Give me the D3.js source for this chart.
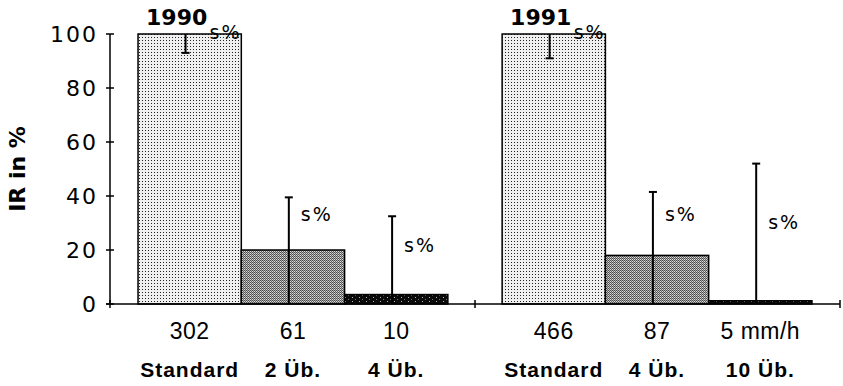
<!DOCTYPE html>
<html>
<head>
<meta charset="utf-8">
<script src="https://cdn.jsdelivr.net/npm/d3@7"></script>
<style>
  html, body { margin: 0; padding: 0; background: #fff; }
  svg { display: block; }
  text { fill: #000; }
</style>
</head>
<body>
<svg id="chart" width="843" height="386"></svg>
<script>
// IR (in % of the standard) per treatment, two seasons
const years = ["1990", "1991"];
const groupOf = ["1990", "1990", "1990", "1991", "1991", "1991"];
const categories = ["Standard", "2 Üb.", "4 Üb.", "Standard", "4 Üb.", "10 Üb."];
const counts = ["302", "61", "10", "466", "87", "5 mm/h"];
const irValues = [100, 20, 3.5, 100, 18, 1.2];
const sdEnds = [93, 39.5, 32.5, 91, 41.5, 52];
const yTicks = [0, 20, 40, 60, 80, 100];
const sdLabel = "s%";

const bars = categories.map((c, i) => ({
  i, group: groupOf[i], cat: c, count: counts[i],
  value: irValues[i], sd: sdEnds[i],
  slot: i % 3
}));

const svg = d3.select("#chart");
const plotLeft = 110, plotRight = 840, plotTop = 34, plotBottom = 304;

const y = d3.scaleLinear().domain([0, 100]).range([plotBottom, plotTop]);
const outer = d3.scaleBand().domain(years).range([plotLeft, plotRight])
  .paddingInner(0.149).paddingOuter(0.077);
const inner = d3.scaleBand().domain([0, 1, 2]).range([0, outer.bandwidth()]).padding(0);
const xOf = d => outer(d.group) + inner(d.slot);
const cxOf = d => xOf(d) + inner.bandwidth() / 2;

// fill textures
const defs = svg.append("defs");
const light = defs.append("pattern").attr("id", "p-light")
  .attr("patternUnits", "userSpaceOnUse").attr("width", 3).attr("height", 3);
light.append("rect").attr("width", 3).attr("height", 3).attr("fill", "#f0f0f0");
light.append("rect").attr("x", 1).attr("y", 1).attr("width", 1).attr("height", 1).attr("fill", "#222");

const mid = defs.append("pattern").attr("id", "p-mid")
  .attr("patternUnits", "userSpaceOnUse").attr("width", 2).attr("height", 2);
mid.append("rect").attr("width", 2).attr("height", 2).attr("fill", "#dcdcdc");
mid.append("rect").attr("x", 0).attr("y", 0).attr("width", 1).attr("height", 1).attr("fill", "#4a4a4a");
mid.append("rect").attr("x", 1).attr("y", 1).attr("width", 1).attr("height", 1).attr("fill", "#606060");
mid.append("rect").attr("x", 1).attr("y", 0).attr("width", 1).attr("height", 1).attr("fill", "#aaa");

const dark = defs.append("pattern").attr("id", "p-dark")
  .attr("patternUnits", "userSpaceOnUse").attr("width", 7).attr("height", 4);
dark.append("rect").attr("width", 7).attr("height", 4).attr("fill", "#0a0a0a");
dark.append("rect").attr("x", 2).attr("y", 1).attr("width", 1).attr("height", 1).attr("fill", "#bbb");
dark.append("rect").attr("x", 5).attr("y", 3).attr("width", 1).attr("height", 1).attr("fill", "#777");

const fills = ["url(#p-light)", "url(#p-mid)", "url(#p-dark)"];

// bars
svg.append("g").selectAll("rect").data(bars).join("rect")
  .attr("x", d => xOf(d))
  .attr("y", d => y(d.value))
  .attr("width", inner.bandwidth())
  .attr("height", d => y(0) - y(d.value))
  .attr("fill", d => fills[d.slot])
  .attr("stroke", "#000")
  .attr("stroke-width", 1.5);

// error bars: upward ones start at the baseline, downward ones at the bar top
const errX = d => xOf(d) + inner.bandwidth() * 0.46;
const isDown = d => d.sd < d.value;
const eg = svg.append("g").attr("stroke", "#000").attr("stroke-width", 2);
eg.selectAll("line.err").data(bars).join("line").attr("class", "err")
  .attr("x1", errX).attr("x2", errX)
  .attr("y1", d => isDown(d) ? y(d.value) : y(0))
  .attr("y2", d => y(d.sd));
eg.selectAll("line.cap").data(bars).join("line").attr("class", "cap")
  .attr("x1", d => errX(d) - 4).attr("x2", d => errX(d) + 4)
  .attr("y1", d => y(d.sd)).attr("y2", d => y(d.sd));

// s% annotations
svg.append("g").selectAll("text").data(bars).join("text")
  .attr("x", d => errX(d) + (isDown(d) ? 24 : 12))
  .attr("y", d => isDown(d) ? y(d.value) + 5 : y((d.value + d.sd) / 2) - 3)
  .attr("font-family", "DejaVu Sans, sans-serif")
  .attr("font-size", 19)
  .attr("letter-spacing", 2)
  .text(sdLabel);

// y axis
const ya = svg.append("g");
ya.append("line").attr("x1", plotLeft).attr("x2", plotLeft).attr("y1", y(0)).attr("y2", y(100))
  .attr("stroke", "#000").attr("stroke-width", 1.5);
ya.selectAll("line.t").data(yTicks).join("line").attr("class", "t")
  .attr("x1", plotLeft - 4).attr("x2", plotLeft + 4)
  .attr("y1", d => y(d)).attr("y2", d => y(d))
  .attr("stroke", "#000").attr("stroke-width", 1.5);
ya.selectAll("text").data(yTicks).join("text")
  .attr("x", plotLeft - 12).attr("y", d => y(d))
  .attr("dy", "0.36em")
  .attr("text-anchor", "end")
  .attr("font-family", "DejaVu Sans, sans-serif")
  .attr("font-size", 22)
  .attr("letter-spacing", 2)
  .text(d => d);

// x axis with ticks at the group boundaries
const groupEnds = years.map(g => outer(g) + outer.bandwidth());
const xTicks = [plotLeft, (groupEnds[0] + outer(years[1])) / 2, plotRight];
const xa = svg.append("g");
xa.append("line").attr("x1", plotLeft - 4).attr("x2", plotRight).attr("y1", y(0)).attr("y2", y(0))
  .attr("stroke", "#000").attr("stroke-width", 1.5);
xa.selectAll("line.t").data(xTicks).join("line").attr("class", "t")
  .attr("x1", d => d).attr("x2", d => d)
  .attr("y1", y(0) - 4).attr("y2", y(0) + 4)
  .attr("stroke", "#000").attr("stroke-width", 1.5);

// counts and treatment labels
svg.append("g").selectAll("text").data(bars).join("text")
  .attr("x", cxOf).attr("y", 339)
  .attr("text-anchor", "middle")
  .attr("font-family", "Liberation Sans, Arial, sans-serif")
  .attr("font-size", 23)
  .attr("letter-spacing", 0.5)
  .text(d => d.count);
svg.append("g").selectAll("text").data(bars).join("text")
  .attr("x", cxOf).attr("y", 377)
  .attr("text-anchor", "middle")
  .attr("font-family", "Liberation Sans, Arial, sans-serif")
  .attr("font-weight", "bold")
  .attr("font-size", 21)
  .attr("letter-spacing", 1)
  .text(d => d.cat);

// season headings
svg.append("g").selectAll("text").data(years).join("text")
  .attr("x", d => outer(d) + 8).attr("y", 25)
  .attr("font-family", "DejaVu Sans, sans-serif")
  .attr("font-weight", "bold")
  .attr("font-size", 22)
  .text(d => d);

// y axis title
svg.append("text")
  .attr("transform", `translate(25, ${(y(0) + y(100)) / 2}) rotate(-90)`)
  .attr("text-anchor", "middle")
  .attr("font-family", "DejaVu Sans, sans-serif")
  .attr("font-weight", "bold")
  .attr("font-size", 22)
  .text("IR in %");
</script>
</body>
</html>
